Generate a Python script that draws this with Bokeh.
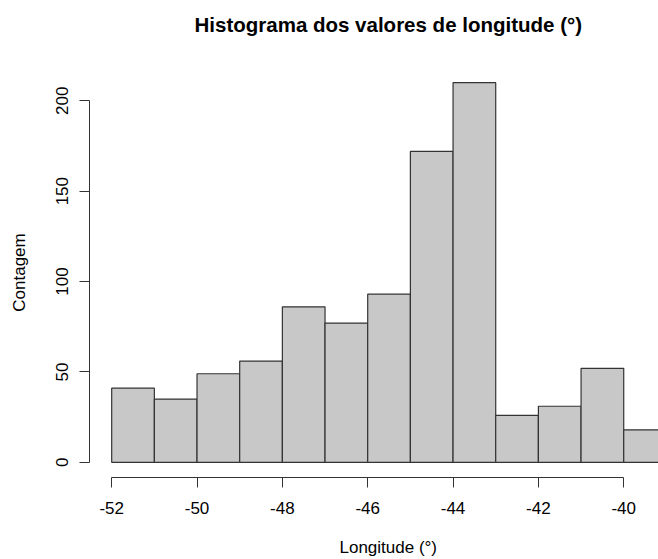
from bokeh.plotting import figure
from bokeh.models import Range1d, FixedTicker, Title, CustomJSTickFormatter
from bokeh.embed import file_html
from bokeh.resources import INLINE

# Data
breaks = [-52, -51, -50, -49, -48, -47, -46, -45, -44, -43, -42, -41, -40, -39]
counts = [41, 35, 49, 56, 86, 77, 93, 172, 210, 26, 31, 52, 18]
x_ticks = [-52, -50, -48, -46, -44, -42, -40]
y_ticks = [0, 50, 100, 150, 200]

title_text = "Histograma dos valores de longitude (°)"
x_label = "Longitude (°)"
y_label = "Contagem"

FONT = "Liberation Sans"

# R-style 4% range extension
span = breaks[-1] - breaks[0]
x0 = breaks[0] - 0.04 * span
ymax = max(counts)
y0 = -0.04 * ymax
y1 = ymax * 1.04

frame_left = 89
frame_top = 67
frame_bottom = 477
W, H = 658, 559
px_per_unit = 42.67
x1 = x0 + (W - frame_left) / px_per_unit

p = figure(width=W, height=H, output_backend="svg", toolbar_location=None,
           x_range=Range1d(x0, x1), y_range=Range1d(y0, y1),
           min_border_left=frame_left, min_border_right=0,
           min_border_top=frame_top, min_border_bottom=H - frame_bottom)
p.outline_line_color = None
p.xgrid.visible = False
p.ygrid.visible = False
p.background_fill_color = "white"
p.border_fill_color = "white"

p.quad(left=breaks[:-1], right=breaks[1:], bottom=0, top=counts,
       fill_color="#C8C8C8", line_color="#333333", line_width=1.2)

fmt = CustomJSTickFormatter(code="return tick.toString();")
for ax in (p.xaxis[0], p.yaxis[0]):
    ax.axis_line_color = "#333333"
    ax.major_tick_line_color = "#333333"
    ax.axis_line_width = 1
    ax.major_tick_in = 0
    ax.major_tick_out = 10
    ax.minor_tick_line_color = None
    ax.major_label_text_font = FONT
    ax.major_label_text_font_size = "17px"
    ax.major_label_text_color = "black"
    ax.formatter = fmt

p.xaxis[0].ticker = FixedTicker(ticks=x_ticks)
p.xaxis[0].bounds = (x_ticks[0], x_ticks[-1])
p.xaxis[0].major_label_standoff = 14

p.yaxis[0].ticker = FixedTicker(ticks=y_ticks)
p.yaxis[0].bounds = (y_ticks[0], y_ticks[-1])
p.yaxis[0].major_label_orientation = "vertical"
p.yaxis[0].major_label_standoff = 11
p.yaxis[0].axis_label = y_label
p.yaxis[0].axis_label_text_font = FONT
p.yaxis[0].axis_label_text_font_size = "17px"
p.yaxis[0].axis_label_text_font_style = "normal"
p.yaxis[0].axis_label_text_color = "black"
p.yaxis[0].axis_label_standoff = 25

# Two-line title boxes (one blank line) shift the visible line away from the frame
p.title = Title(text=title_text + "\n", text_font=FONT, text_font_size="20.5px",
                text_font_style="bold", text_color="black",
                align="left", offset=105, standoff=18)
p.add_layout(Title(text="\n" + x_label, text_font=FONT, text_font_size="17px",
                   text_font_style="normal", text_color="black",
                   align="left", offset=250, standoff=0), "below")

open("out.html", "w").write(file_html(p, INLINE))
